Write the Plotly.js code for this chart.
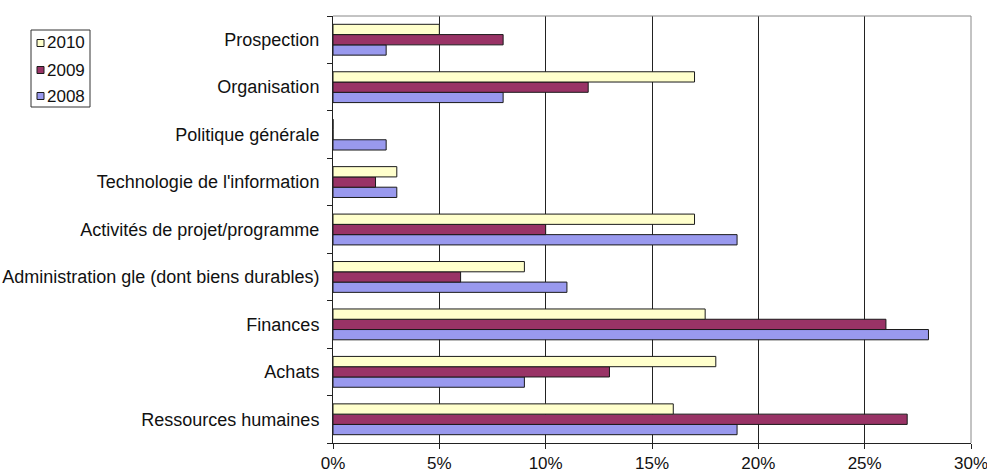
<!DOCTYPE html>
<html>
<head>
<meta charset="utf-8">
<script src="https://cdn.plot.ly/plotly-3.0.1.min.js"></script>
<style>html,body{margin:0;padding:0;background:#fff;}#chart{width:987px;height:474px;}</style>
</head>
<body>
<div id="chart"></div>
<script>
const categories = [
  "Ressources humaines",
  "Achats",
  "Finances",
  "Administration gle (dont biens durables)",
  "Activités de projet/programme",
  "Technologie de l'information",
  "Politique générale",
  "Organisation",
  "Prospection"
];
const seriesNames = ["2008", "2009", "2010"];
const seriesColors = ["#9999EE", "#993366", "#FFFFCC"];
const values2008 = [19, 9, 28, 11, 19, 3, 2.5, 8, 2.5];
const values2009 = [27, 13, 26, 6, 10, 2, 0, 12, 8];
const values2010 = [16, 18, 17.5, 9, 17, 3, 0, 17, 5];
const xTicks = [0, 0.05, 0.10, 0.15, 0.20, 0.25, 0.30];
const xTickLabels = ["0%", "5%", "10%", "15%", "20%", "25%", "30%"];

const pct = a => a.map(v => v / 100);
const outline = {color: "#1a1a1a", width: 1};
const seriesValues = [values2008, values2009, values2010];

const traces = seriesNames.map((n, i) => ({
  type: "bar", orientation: "h", name: n, y: categories, x: pct(seriesValues[i]),
  marker: {color: seriesColors[i], line: outline}
}));

// plot area in pixels (for placing the hand-drawn legend)
const W = 987, H = 474, ML = 333, MR = 16, MT = 16, MB = 31;
const PW = W - ML - MR, PH = H - MT - MB;
const px = x => (x - ML) / PW;
const py = y => (H - MB - y) / PH;

const shapes = [
  {type: "line", xref: "paper", yref: "paper", x0: 0, x1: 1, y0: 1, y1: 1, line: {color: "#888", width: 1}},
  {type: "line", xref: "paper", yref: "paper", x0: 1, x1: 1, y0: 0, y1: 1, line: {color: "#888", width: 1}},
  {type: "rect", xref: "paper", yref: "paper", x0: px(31), x1: px(90), y0: py(107), y1: py(30),
   line: {color: "#333", width: 1}, fillcolor: "#fff", layer: "below"}
];
const annotations = [];
const legendRows = [43, 70, 96];
// legend lists 2010 first
[2, 1, 0].forEach((si, r) => {
  const cy = legendRows[r];
  shapes.push({type: "rect", xref: "paper", yref: "paper",
    x0: px(37), x1: px(44), y0: py(cy + 3.5), y1: py(cy - 3.5),
    line: {color: "#1a1a1a", width: 1}, fillcolor: seriesColors[si]});
  annotations.push({xref: "paper", yref: "paper", x: px(45), y: py(cy), xanchor: "left", yanchor: "middle",
    text: seriesNames[si], showarrow: false,
    font: {family: "Liberation Sans, Arial, sans-serif", size: 17, color: "#111"}});
});

const layout = {
  width: W, height: H,
  margin: {l: ML, r: MR, t: MT, b: MB, pad: 0},
  paper_bgcolor: "#fff", plot_bgcolor: "#fff",
  font: {family: "Liberation Sans, Arial, sans-serif", size: 18, color: "#111"},
  barmode: "group",
  bargap: 0.35,
  bargroupgap: 0,
  showlegend: false,
  xaxis: {
    range: [0, 0.30], tickvals: xTicks, ticktext: xTickLabels,
    tickfont: {family: "Liberation Sans Narrow, Liberation Sans, Arial, sans-serif", size: 17, color: "#111"},
    ticklabeloverflow: "allow",
    showgrid: true, gridcolor: "#222", gridwidth: 1,
    showline: true, linecolor: "#222", linewidth: 1,
    ticks: "outside", ticklen: 5, tickcolor: "#222",
    zeroline: false, fixedrange: true
  },
  yaxis: {
    type: "category", categoryorder: "array", categoryarray: categories,
    showgrid: false, showline: true, linecolor: "#222", linewidth: 1,
    ticks: "outside", ticklen: 5, tickcolor: "#222", tickson: "boundaries",
    ticklabelstandoff: 9,
    zeroline: false, fixedrange: true
  },
  shapes: shapes,
  annotations: annotations
};

Plotly.newPlot("chart", traces, layout, {displayModeBar: false, staticPlot: true});
</script>
</body>
</html>
